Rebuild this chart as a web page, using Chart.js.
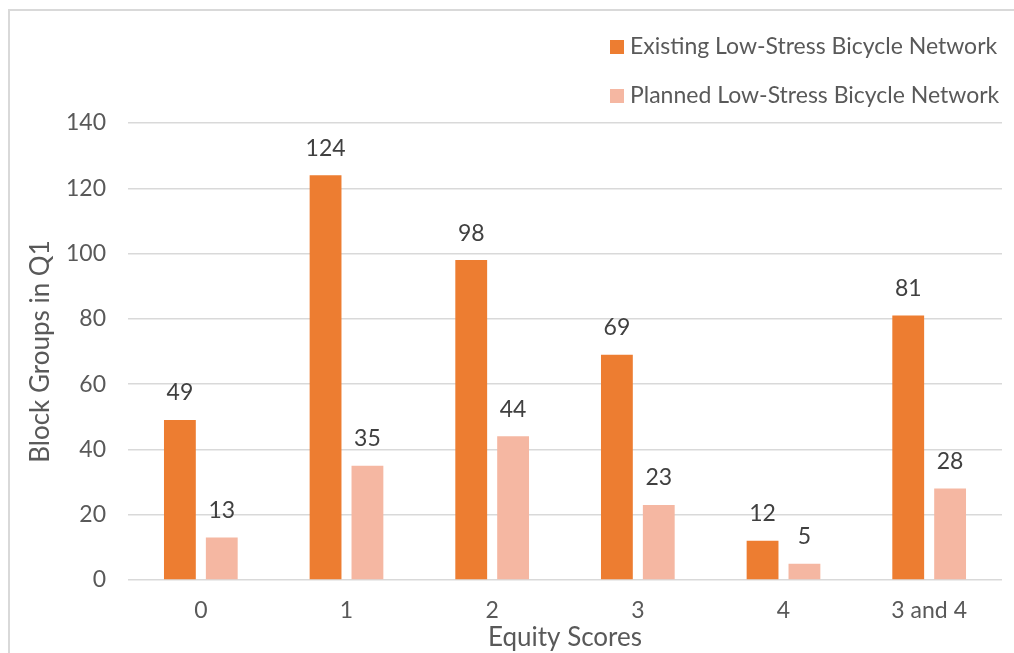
<!DOCTYPE html>
<html>
<head>
<meta charset="utf-8">
<script src="https://cdn.jsdelivr.net/npm/chart.js@4"></script>
<style>
  html, body { margin: 0; padding: 0; background: #fff; overflow: hidden; }
  #frame {
    position: absolute; left: 8px; top: 9px; width: 1020px; height: 660px;
    border-top: 2px solid #d9d9d9; border-left: 2px solid #d9d9d9;
  }
  #wrap { position: absolute; left: 0; top: 0; width: 1014px; height: 653px; }
</style>
</head>
<body>
<div id="frame"></div>
<div id="wrap"><canvas id="equityChart"></canvas></div>
<script>
// Equity score categories and block group counts
var categories = ['0', '1', '2', '3', '4', '3 and 4'];
var existingValues = [49, 124, 98, 69, 12, 81];
var plannedValues = [13, 35, 44, 23, 5, 28];
var seriesNames = ['Existing Low-Stress Bicycle Network', 'Planned Low-Stress Bicycle Network'];
var yTicks = [0, 20, 40, 60, 80, 100, 120, 140];

var fontFamily = 'Lato, "Open Sans", sans-serif';
var textColor = '#595959';

// value labels above each bar
var barLabels = {
  id: 'barLabels',
  afterDatasetsDraw: function (chart) {
    var ctx = chart.ctx;
    ctx.save();
    ctx.font = '23px ' + fontFamily;
    ctx.fillStyle = '#404040';
    ctx.textAlign = 'center';
    ctx.textBaseline = 'middle';
    chart.data.datasets.forEach(function (ds, i) {
      chart.getDatasetMeta(i).data.forEach(function (bar, j) {
        ctx.fillText(String(ds.data[j]), bar.x, bar.y - 27);
      });
    });
    ctx.restore();
  }
};

// stacked legend in the top right corner
var stackedLegend = {
  id: 'stackedLegend',
  afterDraw: function (chart) {
    var ctx = chart.ctx;
    ctx.save();
    ctx.font = '23px ' + fontFamily;
    ctx.textBaseline = 'middle';
    ctx.textAlign = 'left';
    var rows = [47, 96];
    chart.data.datasets.forEach(function (ds, i) {
      ctx.fillStyle = ds.backgroundColor;
      ctx.fillRect(610, rows[i] - 7, 14, 14);
      ctx.fillStyle = textColor;
      ctx.fillText(ds.label, 630, rows[i]);
    });
    ctx.restore();
  }
};

new Chart(document.getElementById('equityChart'), {
  type: 'bar',
  data: {
    labels: categories,
    datasets: [
      {
        label: seriesNames[0],
        data: existingValues,
        backgroundColor: '#ED7D31',
        categoryPercentage: 0.575,
        barPercentage: 0.76,
      },
      {
        label: seriesNames[1],
        data: plannedValues,
        backgroundColor: '#F5B7A2',
        categoryPercentage: 0.575,
        barPercentage: 0.76,
      },
    ],
  },
  options: {
    responsive: true,
    maintainAspectRatio: false,
    animation: false,
    layout: { padding: { top: 123, right: 12, left: 0, bottom: 0 } },
    scales: {
      x: {
        grid: { display: false, drawTicks: false },
        border: { display: false },
        ticks: { color: textColor, font: { family: fontFamily, size: 23 }, padding: 17 },
        title: {
          display: true,
          text: 'Equity Scores',
          color: textColor,
          font: { family: fontFamily, size: 26 },
          padding: { top: 0, bottom: 0 },
        },
        afterFit: function (scale) { scale.height = 73; },
      },
      y: {
        min: 0,
        max: 140,
        afterBuildTicks: function (scale) {
          scale.ticks = yTicks.map(function (v) { return { value: v }; });
        },
        grid: { color: '#d9d9d9', lineWidth: 1.5, drawTicks: false },
        border: { display: false },
        ticks: { color: textColor, font: { family: fontFamily, size: 23 }, padding: 22 },
        title: {
          display: true,
          text: 'Block Groups in Q1',
          color: textColor,
          font: { family: fontFamily, size: 26 },
          padding: { top: 25, bottom: 0 },
        },
        afterFit: function (scale) { scale.width = 128; },
      },
    },
    plugins: {
      legend: { display: false },
      tooltip: { enabled: false },
    },
  },
  plugins: [barLabels, stackedLegend],
});
</script>
</body>
</html>
